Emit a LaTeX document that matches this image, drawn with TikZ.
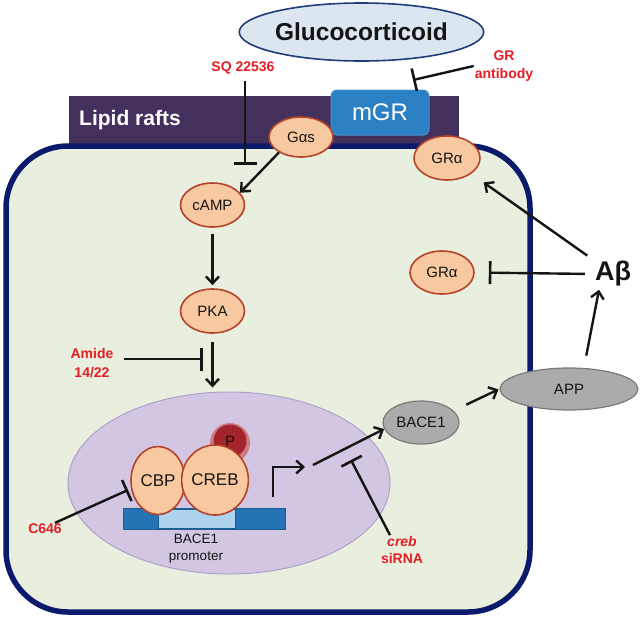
\documentclass[tikz,border=0pt]{standalone}
\usepackage{fontspec}
\setmainfont{Liberation Sans}
\usetikzlibrary{shapes.geometric,arrows.meta}
\definecolor{cellfill}{HTML}{E9EFDF}
\definecolor{cellline}{HTML}{0B1A6B}
\definecolor{raft}{HTML}{44305C}
\definecolor{mgrcol}{HTML}{2B7FC3}
\definecolor{orfill}{HTML}{F8C9A0}
\definecolor{orline}{HTML}{B5432B}
\definecolor{nucfill}{HTML}{D3C6E2}
\definecolor{nucline}{HTML}{B0A0CC}
\definecolor{grayfill}{HTML}{ABABAB}
\definecolor{grayline}{HTML}{7A7A7A}
\definecolor{gcfill}{HTML}{DCE6F1}
\definecolor{gcline}{HTML}{1F3D7A}
\definecolor{redtxt}{HTML}{E41E26}
\definecolor{dnadark}{HTML}{2474B5}
\definecolor{dnalight}{HTML}{AED3EE}
\definecolor{pfill}{HTML}{A3242A}
\definecolor{phalo}{HTML}{CF5A5A}
\definecolor{ink}{HTML}{151515}
\tikzset{
  mol/.style={ellipse, draw=orline, line width=1.6pt, fill=orfill, inner sep=0pt,
    text=ink, font=\fontsize{15}{15}\selectfont},
  grayel/.style={ellipse, draw=grayline, line width=1.2pt, fill=grayfill, inner sep=0pt,
    text=ink, font=\fontsize{15}{15}\selectfont},
  redlab/.style={text=redtxt, font=\bfseries\fontsize{14}{17}\selectfont, align=center, inner sep=1pt},
  arr/.style={draw=ink, line width=2.4pt, -{Straight Barb[length=7pt,width=13pt]}},
  inh/.style={draw=ink, line width=2.4pt, -{Bar[width=23pt,line width=2.6pt]}}
}
\begin{document}
\begin{tikzpicture}[x=1pt,y=-1pt]
\useasboundingbox (0,0) rectangle (640,619);

% glucocorticoid
\node[ellipse, draw=gcline, line width=1.6pt, fill=gcfill, minimum width=211pt, minimum height=58pt,
  inner sep=0pt, text=ink, font=\bfseries\fontsize{24.5}{25}\selectfont] (gc) at (361.5,32) {Glucocorticoid};

% lipid raft bar and cell
\node[rectangle, fill=raft, minimum width=390pt, minimum height=49pt, inner sep=0pt] (raftbar) at (264,120.5) {};
\node[text=white, font=\bfseries\fontsize{21}{21}\selectfont, inner sep=0pt] (raftlbl) at (130,120) {Lipid rafts};
\node[rectangle, draw=cellline, line width=5.5pt, fill=cellfill, rounded corners=62pt,
  minimum width=524pt, minimum height=466pt, inner sep=0pt] (cell) at (268,379) {};

% mGR
\node[rectangle, rounded corners=6pt, fill=mgrcol, draw=mgrcol!85!white, line width=1pt,
  minimum width=98pt, minimum height=45pt, inner sep=0pt, text=white,
  font=\fontsize{24}{24}\selectfont] (mgr) at (380,112.5) {mGR};

% molecules
\node[mol, minimum width=64pt, minimum height=40pt] (gas) at (301,137) {Gαs};
\node[mol, minimum width=66pt, minimum height=44pt] (grtop) at (447,158) {GRα};
\node[mol, minimum width=64pt, minimum height=44pt] (camp) at (212.5,205) {cAMP};
\node[mol, minimum width=64pt, minimum height=44pt] (pka) at (212.5,311) {PKA};
\node[mol, minimum width=64pt, minimum height=43pt] (grmid) at (442,272.5) {GRα};

% nucleus
\node[ellipse, fill=nucfill, draw=nucline, line width=1pt, minimum width=322pt,
  minimum height=182pt, inner sep=0pt] (nuc) at (229,483) {};

% DNA promoter
\node[rectangle, fill=dnadark, draw=dnadark!80!black, line width=0.8pt, minimum width=162pt,
  minimum height=21pt, inner sep=0pt] (dna) at (204,518.5) {};
\node[rectangle, fill=dnalight, draw=dnadark!80!black, line width=0.6pt, minimum width=77pt,
  minimum height=19pt, inner sep=0pt] (dnal) at (196.5,518.5) {};
\node[text=ink, font=\fontsize{13.5}{17}\selectfont, align=center, inner sep=0pt] (prom) at (196,549) {BACE1\\promoter};

% phosphate
\node[circle, fill=phalo, minimum size=40pt, inner sep=0pt, opacity=0.7] (phal) at (230,443) {};
\node[circle, fill=pfill, minimum size=33pt, inner sep=0pt, text=ink!60!pfill!40!black,
  font=\fontsize{15}{15}\selectfont] (p) at (230,441) {P};

% CBP / CREB
\node[mol, minimum width=54pt, minimum height=68pt, font=\fontsize{17}{17}\selectfont] (cbp) at (158,480.5) {CBP};
\node[mol, minimum width=60pt, minimum height=70pt, font=\fontsize{17}{17}\selectfont] (creb) at (215,480) {CREB};

% BACE1, APP, Abeta
\node[grayel, minimum width=76pt, minimum height=43pt] (bace) at (421,422.5) {BACE1};
\node[grayel, minimum width=138pt, minimum height=42pt] (app) at (569,389) {APP};
\node[text=ink, font=\bfseries\fontsize{27}{27}\selectfont, inner sep=1pt] (abeta) at (613,274) {Aβ};

% red labels
\node[redlab] (sq) at (243,68) {SQ 22536};
\node[redlab, font=\bfseries\fontsize{14}{18}\selectfont] (grab) at (504,66) {GR\\antibody};
\node[redlab, font=\bfseries\fontsize{14}{19}\selectfont] (amide) at (92,363) {Amide\\14/22};
\node[redlab] (c646) at (45,529) {C646};
\node[redlab, font=\bfseries\fontsize{14}{17}\selectfont] (crebsi) at (402,550) {\textit{creb}\\siRNA};

% coordinates for inhibitor ends
\coordinate (sqend) at (245,165);
\coordinate (grabend) at (413,80);
\coordinate (amend) at (203,359);
\coordinate (c646end) at (128,490);
\coordinate (siend) at (351,460);
\coordinate (tss) at (273,497);
\coordinate (trs) at (313,465);

% activation arrows
\draw[arr] (gas.215) -- (camp.24);
\draw[arr, shorten <=6pt, shorten >=3pt] (camp.south) -- (pka.north);
\draw[arr, shorten <=8pt, shorten >=4pt] (pka.south) -- (pka.south |- nuc.north);
\draw[arr, line join=miter] (tss) -- ++(0,-30) -- ++(32,0);
\draw[arr] (trs) -- (bace.190);
\draw[arr, shorten <=14pt, shorten >=1pt] (bace.20) -- (app.west);
\draw[arr, shorten <=12pt] ([xshift=15pt]app.north) -- ([xshift=-14pt,yshift=-2pt]abeta.south);
\draw[arr, shorten <=8pt, shorten >=15pt] (abeta.north west) -- (grtop.-33);

% inhibitions
\draw[inh, shorten <=6pt] (sq.south -| sqend) -- (sqend);
\draw[inh] (grab.west) -- (grabend);
\draw[inh, shorten <=9pt] ([yshift=4pt]amide.east) -- (amend);
\draw[inh] ([xshift=10pt]c646.north) -- (c646end);
\draw[inh] ([xshift=-12pt]crebsi.north) -- (siend);
\draw[inh, shorten <=9pt, shorten >=14pt] (abeta.west) -- (grmid.east);
\end{tikzpicture}
\end{document}
